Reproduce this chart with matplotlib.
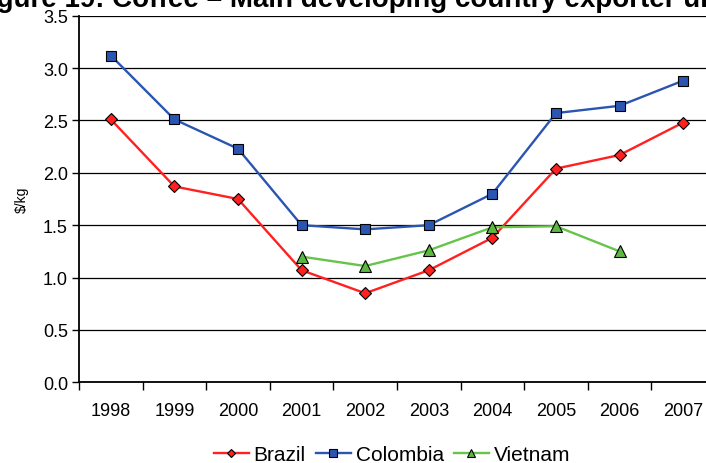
import numpy as np
import matplotlib.pyplot as plt
from matplotlib.ticker import FixedLocator, NullFormatter

plt.rcParams['font.family'] = ['Liberation Sans', 'DejaVu Sans']

years = ["1998", "1999", "2000", "2001", "2002", "2003", "2004", "2005", "2006", "2007"]
brazil = [2.51, 1.87, 1.75, 1.07, 0.85, 1.07, 1.38, 2.04, 2.17, 2.48]
colombia = [3.12, 2.51, 2.23, 1.50, 1.46, 1.50, 1.80, 2.57, 2.64, 2.88]
vietnam = [np.nan, np.nan, np.nan, 1.20, 1.11, 1.26, 1.48, 1.49, 1.25, np.nan]

fig = plt.figure(figsize=(7.06, 4.64), dpi=100)
ax = fig.add_axes([79 / 706, 1 - 383.3 / 464, 636 / 706, 366.6 / 464])

x = np.arange(len(years))
ax.plot(x, brazil, color="#FF2020", lw=1.7, marker="D", ms=6,
        mfc="#FF2020", mec="black", mew=0.8, label="Brazil", zorder=3)
ax.plot(x, colombia, color="#2A55B0", lw=1.7, marker="s", ms=7,
        mfc="#2A55B0", mec="black", mew=0.8, label="Colombia", zorder=3)
ax.plot(x, vietnam, color="#66C44A", lw=1.7, marker="^", ms=8,
        mfc="#5CB840", mec="black", mew=0.8, label="Vietnam", zorder=3)

ax.set_xlim(-0.5, len(years) - 0.5)
ax.set_ylim(0, 3.5)
ax.set_yticks(np.arange(0, 3.51, 0.5))
ax.set_yticklabels([f"{v:.1f}" for v in np.arange(0, 3.51, 0.5)])
ax.yaxis.grid(True, color="black", lw=0.9)
ax.set_axisbelow(True)

# year labels sit between the tick marks
ax.xaxis.set_major_locator(FixedLocator(np.arange(-0.5, len(years), 1.0)))
ax.xaxis.set_major_formatter(NullFormatter())
ax.xaxis.set_minor_locator(FixedLocator(x))
ax.set_xticks(x, years, minor=True)
ax.tick_params(axis="x", which="major", length=6, width=1, color="black")
ax.tick_params(axis="x", which="minor", length=0, pad=14, labelsize=13)
ax.tick_params(axis="y", length=5, width=1, labelsize=13, pad=3)

for s in ["top", "right"]:
    ax.spines[s].set_visible(False)
for s in ["left", "bottom"]:
    ax.spines[s].set_linewidth(1.3)

fig.text(22 / 706, 1 - 200 / 464, "$/kg", rotation=90, fontsize=10,
         ha="center", va="center")

fig.text(-28 / 706, 1 - 7 / 464,
         "Figure 19: Coffee \u2013 Main developing country exporter unit values",
         fontsize=20, fontweight="bold", ha="left", va="baseline")

fig.legend(loc="center", bbox_to_anchor=(392 / 706, 1 - 456 / 464), ncol=3,
           frameon=False, fontsize=15, handlelength=1.67, columnspacing=0.48,
           handletextpad=0.24, markerscale=0.75, borderpad=0)

fig.savefig("out.png", dpi=100)
